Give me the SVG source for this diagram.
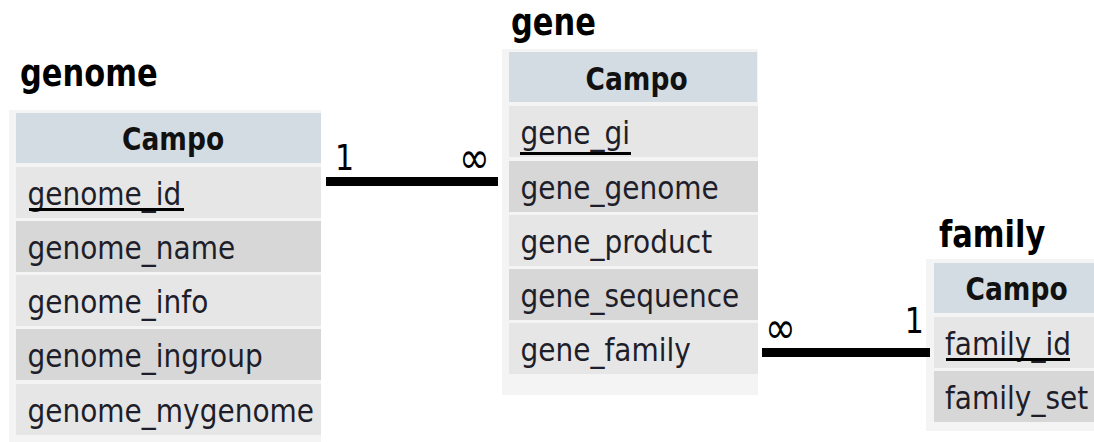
<svg xmlns="http://www.w3.org/2000/svg" width="1094" height="442" viewBox="0 0 1094 442">
  <style>
    .frame { fill: #f4f4f4; }
    .head { fill: #d4dce3; }
    .light { fill: #e6e6e6; }
    .dark { fill: #d7d7d7; }
    .title { font-family: "DejaVu Sans", sans-serif; font-weight: bold; font-size: 30.5px; fill: #000; }
    .th { font-family: "DejaVu Sans", sans-serif; font-weight: bold; font-size: 26.5px; fill: #111; }
    .td { font-family: "DejaVu Sans", sans-serif; font-size: 28px; fill: #1e1e2a; }
    .card { font-family: "DejaVu Sans", sans-serif; font-size: 30px; fill: #000; }
    .many { font-family: "DejaVu Sans", sans-serif; font-size: 37px; fill: #000; }
    .key { fill: #000; }
    .link { fill: #000; }
  </style>
  <rect width="1094" height="442" fill="#ffffff"/>

  <!-- genome table -->
  <g id="genome">
    <text class="title" transform="translate(20,86) scale(1,1.2)">genome</text>
    <rect class="frame" x="9" y="110" width="312" height="332"/>
    <rect class="head" x="16" y="113" width="305" height="50"/>
    <text class="th" transform="translate(122,150) scale(1,1.22)">Campo</text>
    <rect class="light" x="16" y="167" width="305" height="51"/>
    <text class="td" transform="translate(27.5,204.5) scale(1,1.12)">genome_id</text>
    <rect class="key" x="29" y="208" width="155" height="3"/>
    <rect class="dark" x="16" y="221" width="305" height="51"/>
    <text class="td" transform="translate(27.5,258.5) scale(1,1.12)">genome_name</text>
    <rect class="light" x="16" y="275" width="305" height="51"/>
    <text class="td" transform="translate(27.5,312.5) scale(1,1.12)">genome_info</text>
    <rect class="dark" x="16" y="329" width="305" height="51"/>
    <text class="td" transform="translate(27.5,366.5) scale(1,1.12)">genome_ingroup</text>
    <rect class="light" x="16" y="384" width="305" height="51"/>
    <text class="td" transform="translate(27.5,421.5) scale(1,1.12)">genome_mygenome</text>
  </g>

  <!-- gene table -->
  <g id="gene">
    <text class="title" transform="translate(511,35) scale(1,1.2)">gene</text>
    <rect class="frame" x="502" y="49" width="256" height="346"/>
    <rect class="head" x="509" y="52" width="248" height="50"/>
    <text class="th" transform="translate(585.5,90) scale(1,1.22)">Campo</text>
    <rect class="light" x="509" y="106" width="249" height="51"/>
    <text class="td" transform="translate(520.5,143.5) scale(1,1.12)">gene_gi</text>
    <rect class="key" x="520" y="152" width="111" height="3"/>
    <rect class="dark" x="509" y="161" width="249" height="51"/>
    <text class="td" transform="translate(520.5,198.5) scale(1,1.12)">gene_genome</text>
    <rect class="light" x="509" y="215" width="249" height="51"/>
    <text class="td" transform="translate(520.5,252.5) scale(1,1.12)">gene_product</text>
    <rect class="dark" x="509" y="269" width="249" height="51"/>
    <text class="td" transform="translate(520.5,306.5) scale(1,1.12)">gene_sequence</text>
    <rect class="light" x="509" y="323" width="249" height="51"/>
    <text class="td" transform="translate(520.5,360.5) scale(1,1.12)">gene_family</text>
  </g>

  <!-- family table -->
  <g id="family">
    <text class="title" transform="translate(939,246.7) scale(1,1.2)">family</text>
    <rect class="frame" x="926" y="259" width="168" height="172"/>
    <rect class="head" x="934" y="263" width="160" height="50"/>
    <text class="th" transform="translate(965.5,300.3) scale(1,1.22)">Campo</text>
    <rect class="light" x="934" y="317" width="160" height="51"/>
    <text class="td" transform="translate(945,355) scale(1,1.12)">family_id</text>
    <rect class="key" x="946" y="358" width="124" height="3"/>
    <rect class="dark" x="934" y="371" width="160" height="51"/>
    <text class="td" transform="translate(945,408.5) scale(1,1.12)">family_set</text>
  </g>

  <!-- relations -->
  <g id="connectors">
    <rect class="link" x="326" y="177" width="172" height="9"/>
    <text class="card" transform="translate(335,170) scale(1,1.2)">1</text>
    <text class="many" transform="translate(459,173) scale(1,1.2)">∞</text>
    <rect class="link" x="762" y="348" width="168" height="9"/>
    <text class="many" transform="translate(765,343) scale(1,1.2)">∞</text>
    <text class="card" transform="translate(904.7,332.7) scale(1,1.2)">1</text>
  </g>
</svg>
